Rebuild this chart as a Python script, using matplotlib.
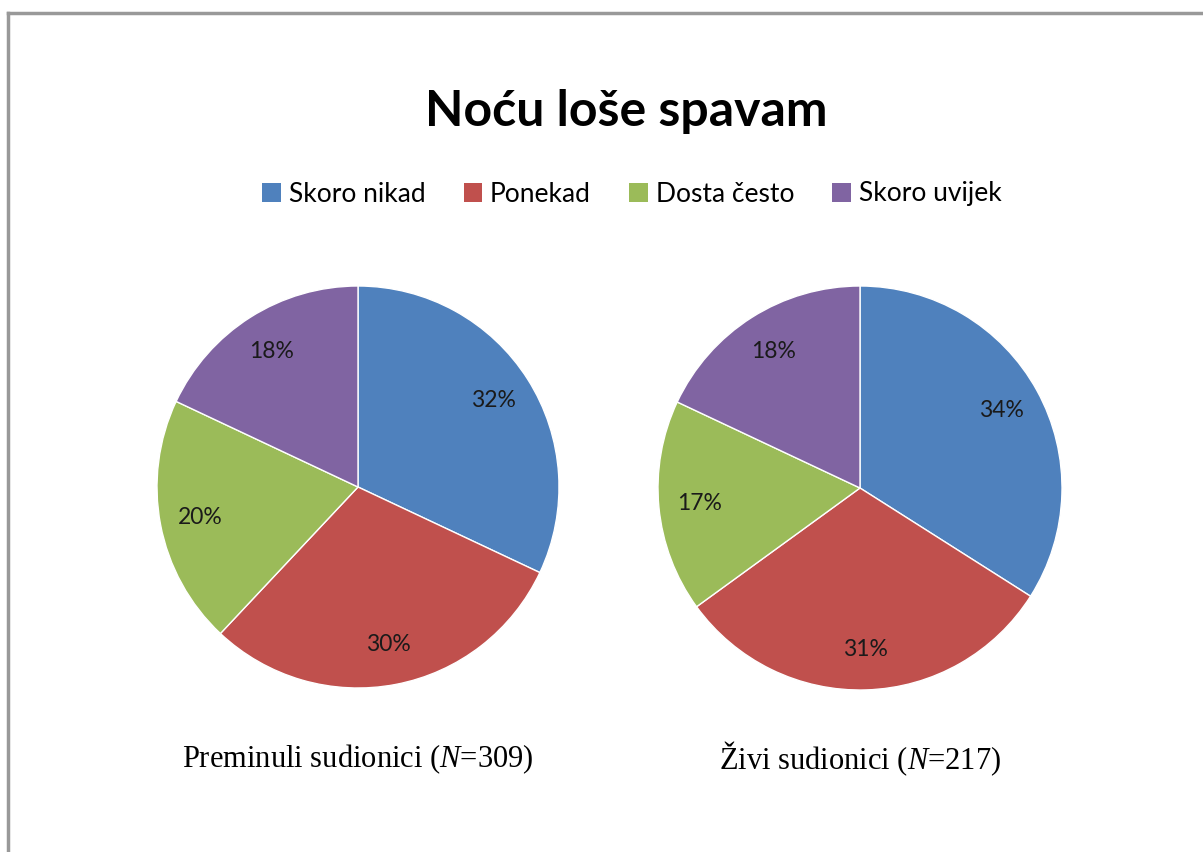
import matplotlib
matplotlib.use("Agg")
import matplotlib.pyplot as plt
from matplotlib.patches import Patch
from matplotlib.lines import Line2D

categories = ["Skoro nikad", "Ponekad", "Dosta često", "Skoro uvijek"]
colors = ["#4F81BD", "#C0504D", "#9BBB59", "#8064A2"]
deceased = [32, 30, 20, 18]
living = [34, 31, 17, 18]
captions = ["Preminuli sudionici ($\\mathit{N}$=309)", "Živi sudionici ($\\mathit{N}$=217)"]

plt.rcParams["font.family"] = ["Lato", "DejaVu Sans"]
plt.rcParams["mathtext.fontset"] = "custom"
plt.rcParams["mathtext.it"] = "Liberation Serif:italic"
plt.rcParams["mathtext.rm"] = "Liberation Serif"

W, H = 1203, 852
fig = plt.figure(figsize=(W / 100, H / 100), dpi=100)


def px_axes(cx, cy, r):
    return fig.add_axes([(cx - r) / W, 1 - (cy + r) / H, 2 * r / W, 2 * r / H])


pies = [(358, 487, 201, deceased), (860, 488, 202, living)]
for (cx, cy, r, vals), cap in zip(pies, captions):
    ax = px_axes(cx, cy, r)
    ax.pie(vals, colors=colors, startangle=90, counterclock=False,
           autopct="%d%%", pctdistance=0.8, radius=1,
           wedgeprops=dict(edgecolor="white", linewidth=1),
           textprops=dict(fontsize=16.5, color="#1a1a1a"))
    ax.set_xlim(-1, 1)
    ax.set_ylim(-1, 1)
    ax.set_aspect("equal")
    fig.text(cx / W, 1 - 759 / H, cap, ha="center", va="center",
             fontsize=22, family="Liberation Serif")

fig.text(626 / W, 1 - 111 / H, "Noću loše spavam", ha="center", va="center",
         fontsize=36, fontweight="bold")

handles = [Patch(facecolor=c, edgecolor="none") for c in colors]
fig.legend(handles, categories, loc="center", bbox_to_anchor=(632 / W, 1 - 194 / H),
           ncol=4, frameon=False, fontsize=19, handlelength=0.7, handleheight=0.7,
           handletextpad=0.3, columnspacing=1.45)

# grey frame lines (top and left)
fig.add_artist(Line2D([8 / W, 1], [1 - 13 / H, 1 - 13 / H], color="#999999",
                      linewidth=2.5, transform=fig.transFigure))
fig.add_artist(Line2D([8 / W, 8 / W], [0, 1 - 13 / H], color="#999999",
                      linewidth=2.5, transform=fig.transFigure))

fig.savefig("out.png", dpi=100)
